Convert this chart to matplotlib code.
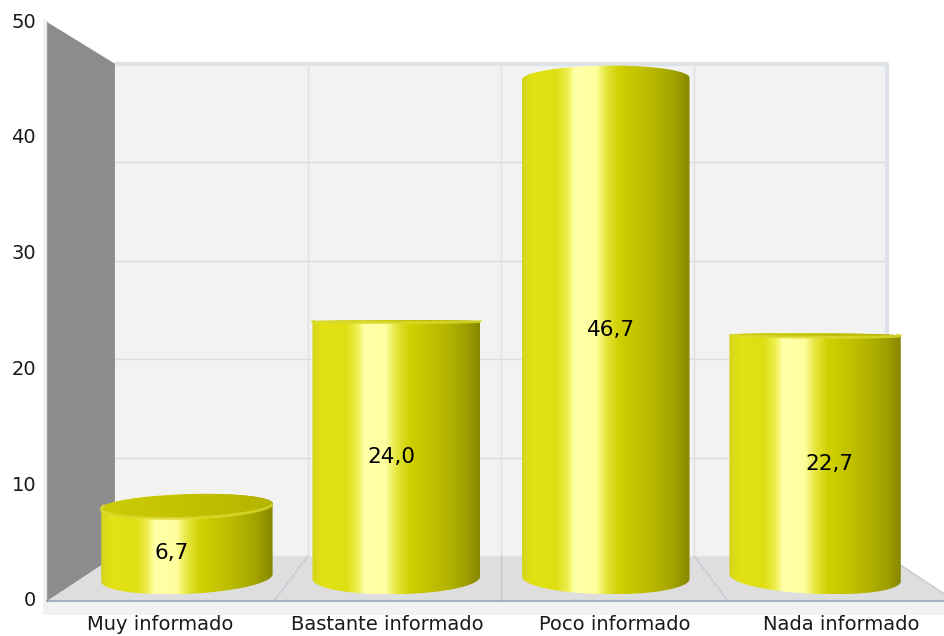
import numpy as np
import matplotlib
matplotlib.use("Agg")
import matplotlib.pyplot as plt
from matplotlib.patches import Polygon
from matplotlib.colors import LinearSegmentedColormap

# data
categories = ["Muy informado", "Bastante informado", "Poco informado", "Nada informado"]
values = [6.7, 24.0, 46.7, 22.7]
value_labels = ["6,7", "24,0", "46,7", "22,7"]
yticks = [0, 10, 20, 30, 40, 50]

# simple perspective projection of the 3d box (pixel space)
VPX, VPY = 501.0, 301.0      # vanishing point
C = 0.176                    # depth strength -> back plane ~0.85 of front
X0, DX = 47.0, 227.0         # front plane x for u = 0 and per category
Y0, DY = 601.0, 11.58        # front plane y for value 0 and per unit
VMAX = 50


def proj(u, v, z):
    u = np.asarray(u, float)
    v = np.asarray(v, float)
    z = np.asarray(z, float)
    s = 1.0 / (1.0 + C * z)
    xf = X0 + u * DX
    yf = Y0 - v * DY
    return VPX + (xf - VPX) * s, VPY + (yf - VPY) * s


def hull(pts):
    pts = sorted(set(map(tuple, np.round(pts, 3))))
    def cross(o, a, b):
        return (a[0] - o[0]) * (b[1] - o[1]) - (a[1] - o[1]) * (b[0] - o[0])
    lower, upper = [], []
    for p in pts:
        while len(lower) >= 2 and cross(lower[-2], lower[-1], p) <= 0:
            lower.pop()
        lower.append(p)
    for p in reversed(pts):
        while len(upper) >= 2 and cross(upper[-2], upper[-1], p) <= 0:
            upper.pop()
        upper.append(p)
    return np.array(lower[:-1] + upper[:-1])


fig = plt.figure(figsize=(9.44, 6.36), dpi=100)
ax = fig.add_axes([0, 0, 1, 1])
ax.set_xlim(0, 944)
ax.set_ylim(636, 0)
ax.axis("off")

n = len(categories)

# light frame strips
ax.add_patch(Polygon([(43, 19), (47, 19), (47, 615), (43, 615)], closed=True,
                     facecolor="#f2f2f2", edgecolor="none", zorder=1))
ax.add_patch(Polygon([(43, 601), (960, 601), (960, 615), (43, 615)], closed=True,
                     facecolor="#f2f2f2", edgecolor="none", zorder=1))

# back wall
bx, by = proj([0, n, n, 0], [0, 0, VMAX, VMAX], [1, 1, 1, 1])
ax.add_patch(Polygon(np.c_[bx, by], closed=True, facecolor="#f2f2f2",
                     edgecolor="none", zorder=1))
for t in yticks[1:-1]:
    gx, gy = proj([0, n], [t, t], [1, 1])
    ax.plot(gx, gy, color="#dcdcdc", lw=1, zorder=2)
for k in range(1, n):
    gx, gy = proj([k, k], [0, VMAX], [1, 1])
    ax.plot(gx, gy, color="#e0e0e0", lw=1, zorder=2)
tx, ty = proj([0, n, n], [VMAX, VMAX, 0], [1, 1, 1])
ax.plot(tx, ty, color="#dde1e8", lw=3, zorder=2, solid_capstyle="butt")

# floor
fx, fy = proj([0, n, n, 0], [0, 0, 0, 0], [0, 0, 1, 1])
ax.add_patch(Polygon(np.c_[fx, fy], closed=True, facecolor="#dedede",
                     edgecolor="none", zorder=2))
for k in range(1, n + 1):
    lx, ly = proj([k, k], [0, 0], [0, 1])
    ax.plot(lx, ly, color="#c4cad4", lw=1, zorder=3)
ex, ey = proj([0, n], [0, 0], [0, 0])
ax.plot(ex, ey, color="#a9b1c0", lw=1.5, zorder=3)

# left wall
wx, wy = proj([0, 0, 0, 0], [0, VMAX, VMAX, 0], [0, 0, 1, 1])
ax.add_patch(Polygon(np.c_[wx, wy], closed=True, facecolor="#8c8c8c",
                     edgecolor="none", zorder=3))
ax.plot(wx[:2], wy[:2], color="#9aa0aa", lw=1, zorder=3)

# cylinder shading
grad = LinearSegmentedColormap.from_list("cyl", [
    (0.0, "#d4d41c"), (0.06, "#e2e214"), (0.2, "#dede10"), (0.27, "#eeee50"),
    (0.31, "#ffffa8"), (0.44, "#ffffa0"), (0.5, "#e6e640"), (0.58, "#d0d000"),
    (0.7, "#c2c200"), (0.82, "#b2b200"), (0.92, "#9e9e00"), (1.0, "#878700")])
cap = LinearSegmentedColormap.from_list("cap", ["#cccc08", "#c2c200", "#b4b400"])

R, RZ, ZC = 0.4, 0.37, 0.5
th = np.linspace(0, 2 * np.pi, 181)
for i, v in enumerate(values):
    uc = i + 0.5
    cu = uc + R * np.cos(th)
    cz = ZC + RZ * np.sin(th)
    bxs, bys = proj(cu, np.zeros_like(th), cz)
    txs, tys = proj(cu, np.full_like(th, v), cz)
    h = hull(np.r_[np.c_[bxs, bys], np.c_[txs, tys]])
    poly = Polygon(h, closed=True, facecolor="none", edgecolor="none", zorder=5)
    ax.add_patch(poly)
    xmin, xmax = h[:, 0].min(), h[:, 0].max()
    ymin, ymax = h[:, 1].min(), h[:, 1].max()
    img = ax.imshow(np.linspace(0, 1, 256)[None, :], cmap=grad, aspect="auto",
                    extent=(xmin, xmax, ymax, ymin), zorder=5,
                    interpolation="bilinear")
    img.set_clip_path(poly)
    # top cap if it is seen from above
    if Y0 - v * DY > VPY:
        cpoly = Polygon(np.c_[txs, tys], closed=True, facecolor="none",
                        edgecolor="none", zorder=6)
        ax.add_patch(cpoly)
        cimg = ax.imshow(np.linspace(0, 1, 256)[None, :], cmap=cap, aspect="auto",
                         extent=(txs.min(), txs.max(), tys.max(), tys.min()),
                         zorder=6, interpolation="bilinear")
        cimg.set_clip_path(cpoly)
        fz = np.sin(th) < 0
        ax.plot(txs[fz], tys[fz], color="#dada30", lw=2, alpha=0.8, zorder=7)
    # value label
    lx, ly = proj(uc, v / 2, 0.2)
    ax.text(lx, ly, value_labels[i], ha="center", va="center",
            fontsize=15.5, color="#000000", zorder=8)
    # category label
    cx, _ = proj(uc, 0, 0)
    ax.text(cx, 625, categories[i], ha="center", va="center",
            fontsize=14, color="#1a1a1a", zorder=8)

# y tick labels on the front plane
for t in yticks:
    _, yy = proj(0, t, 0)
    ax.text(36, yy, str(t), ha="right", va="center", fontsize=14,
            color="#1a1a1a", zorder=8)

fig.savefig("out.png", dpi=100)
